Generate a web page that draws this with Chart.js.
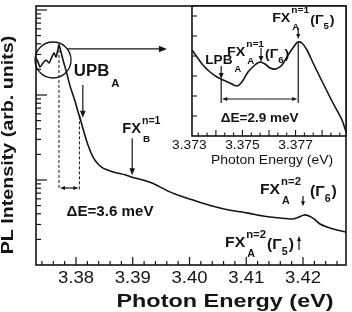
<!DOCTYPE html>
<html>
<head>
<meta charset="utf-8">
<script src="https://cdn.jsdelivr.net/npm/chart.js@4"></script>
<style>
  html, body { margin: 0; padding: 0; background: #fff; }
  #wrap { position: relative; width: 352px; height: 312px; }
  #wrap canvas { position: absolute; left: 0; top: 0; }
</style>
</head>
<body>
<div id="wrap">
  <canvas id="mainChart" width="352" height="312"></canvas>
  <canvas id="insetChart" width="352" height="312"></canvas>
</div>
<script>
// main spectrum: photon energy (eV) and PL intensity (arb. units, log axis)
const mainEnergy = [3.37295, 3.37330, 3.37366, 3.37419, 3.37471, 3.37524, 3.37559, 3.37612, 3.37648, 3.37683,
  3.37700, 3.37736, 3.37771, 3.37806, 3.37841, 3.37894, 3.37982, 3.38035, 3.38070, 3.38123,
  3.38211, 3.38300, 3.38388, 3.38476, 3.38599, 3.38722, 3.38863, 3.38987, 3.39181, 3.39339,
  3.39480, 3.39621, 3.39780, 3.40062, 3.40414, 3.40714, 3.41013, 3.41295, 3.41595, 3.41824,
  3.41930, 3.42018, 3.42106, 3.42194, 3.42300, 3.42423, 3.42599, 3.42758];
const mainIntensity = [272, 245, 214, 238, 258, 238, 265, 312, 280, 348,
  388, 321, 258, 214, 177, 128, 85, 63, 54, 40,
  25.8, 18.6, 15.4, 13.8, 12.8, 12.1, 11.5, 10.8, 10.0, 9.2,
  8.3, 7.4, 6.7, 5.8, 4.9, 4.4, 4.1, 3.77, 3.57, 3.48,
  3.67, 3.88, 3.77, 3.48, 3.04, 2.80, 2.58, 2.44];

// inset: close-up of the polariton / exciton region
const insetEnergy = [3.37310, 3.37329, 3.37351, 3.37378, 3.37404, 3.37427, 3.37453, 3.37479, 3.37498, 3.37521,
  3.37547, 3.37566, 3.37585, 3.37604, 3.37626, 3.37649, 3.37672, 3.37698, 3.37709, 3.37724,
  3.37743, 3.37766, 3.37803, 3.37841, 3.37875, 3.37890];
const insetIntensity = [86, 79, 71, 64, 59, 56, 53, 50, 54, 64,
  71, 74, 72, 68, 67, 71, 81, 91, 94, 93,
  86, 73, 53, 33, 16, 4];

const mainTickLabels = ['3.38', '3.39', '3.40', '3.41', '3.42'];
const insetTickLabels = ['3.373', '3.375', '3.377'];

const FONT = '"Liberation Sans", Arial, Helvetica, sans-serif';
const INK = '#141414';
const SX = 1.05;

function put(ctx, str, x, y, size, bold, align, sx) {
  ctx.save();
  ctx.translate(x, y);
  ctx.scale(sx || 1, 1);
  ctx.font = (bold ? 'bold ' : '') + size + 'px ' + FONT;
  ctx.textAlign = align || 'center';
  ctx.textBaseline = 'middle';
  ctx.fillText(str, 0, 0);
  const w = ctx.measureText(str).width * (sx || 1);
  ctx.restore();
  return w;
}

function seg(ctx, x1, y1, x2, y2) {
  ctx.beginPath();
  ctx.moveTo(x1, y1);
  ctx.lineTo(x2, y2);
  ctx.stroke();
}

function arrow(ctx, x1, y1, x2, y2, head) {
  const a = Math.atan2(y2 - y1, x2 - x1);
  const c = Math.cos(a), s = Math.sin(a);
  seg(ctx, x1, y1, x2 - c * head * 0.7, y2 - s * head * 0.7);
  ctx.beginPath();
  ctx.moveTo(x2, y2);
  ctx.lineTo(x2 - head * c + head * 0.4 * s, y2 - head * s - head * 0.4 * c);
  ctx.lineTo(x2 - head * c - head * 0.4 * s, y2 - head * s + head * 0.4 * c);
  ctx.closePath();
  ctx.fill();
}

// FX^{sup}_{sub}(Γ_gsub) style label, (x, y) = left / middle of the base text
function level(ctx, x, y, o) {
  const s = o.size;
  const bw = put(ctx, o.base, x, y, s, true, 'left', SX);
  const x0 = x + bw + 1;
  const w1 = o.sup ? put(ctx, o.sup, x0, y - 0.55 * s, 0.72 * s, true, 'left', SX) : 0;
  const w2 = o.sub ? put(ctx, o.sub, x0 + 1, y + 0.72 * s, 0.68 * s, true, 'left', SX) + 1 : 0;
  if (o.gsub) {
    let gx = x0 + Math.max(w1, w2) + (o.gap || 1);
    gx += put(ctx, '(Γ', gx, y + 2, s, true, 'left', SX);
    gx += put(ctx, o.gsub, gx, y + 0.6 * s, 0.68 * s, true, 'left', SX);
    put(ctx, ')', gx + 1, y + 2, s, true, 'left', SX);
  }
}

const mainDecor = {
  id: 'mainDecor',
  afterDraw(chart) {
    const { ctx, chartArea: a } = chart;
    const x = chart.scales.x, y = chart.scales.y;
    ctx.save();
    ctx.strokeStyle = INK;
    ctx.fillStyle = INK;

    ctx.lineWidth = 1.6;
    ctx.strokeRect(a.left, a.top, a.right - a.left, a.bottom - a.top);

    // inward ticks
    ctx.lineWidth = 1.2;
    for (let k = Math.ceil(x.min / 0.002); k * 0.002 <= x.max; k++) {
      const px = x.getPixelForValue(k * 0.002);
      seg(ctx, px, a.bottom, px, a.bottom - (k % 5 === 0 ? 8 : 4));
    }
    for (let e = 0; e <= 3; e++) {
      for (let m = 1; m <= 9; m++) {
        const v = m * Math.pow(10, e);
        if (v <= y.min || v > y.max) continue;
        const py = y.getPixelForValue(v);
        seg(ctx, a.left, py, a.left + (m === 1 ? 11 : 5), py);
      }
    }

    mainTickLabels.forEach(t => {
      put(ctx, t, x.getPixelForValue(parseFloat(t)), a.bottom + 13, 17, false, 'center', 1.09);
    });
    put(ctx, 'Photon Energy (eV)', 225, 302, 18, true, 'center', 1.3);
    ctx.save();
    ctx.translate(9, 145);
    ctx.rotate(-Math.PI / 2);
    put(ctx, 'PL Intensity (arb. units)', 0, 0, 16, true, 'center', 1.23);
    ctx.restore();

    // circle around the polariton region and arrow to the inset
    const cx = x.getPixelForValue(3.37595), cy = y.getPixelForValue(258), r = 18;
    ctx.lineWidth = 1.3;
    ctx.beginPath();
    ctx.arc(cx, cy, r, 0, Math.PI * 2);
    ctx.stroke();
    const ay = y.getPixelForValue(348);
    arrow(ctx, cx + Math.sqrt(r * r - (ay - cy) * (ay - cy)), ay, x.getPixelForValue(3.39603), ay, 8);

    // dashed guides and the 3.6 meV splitting
    const xp = x.getPixelForValue(3.3770), xu = x.getPixelForValue(3.3806);
    const yEnd = y.getPixelForValue(7.6), yArr = y.getPixelForValue(8.05);
    ctx.lineWidth = 1;
    ctx.setLineDash([3, 2]);
    seg(ctx, xp, y.getPixelForValue(388), xp, yEnd);
    seg(ctx, xu, y.getPixelForValue(56), xu, yEnd);
    ctx.setLineDash([]);
    ctx.lineWidth = 1.2;
    const mid = (xp + xu) / 2;
    arrow(ctx, mid, yArr, xp + 1, yArr, 5);
    arrow(ctx, mid, yArr, xu - 1, yArr, 5);
    put(ctx, 'ΔE=3.6 meV', x.getPixelForValue(3.38599), y.getPixelForValue(4.2), 14, true, 'center', 1.08);

    // UPB_A
    let ax = x.getPixelForValue(3.3812), at = y.getPixelForValue(131);
    arrow(ctx, ax, at, ax, y.getPixelForValue(54), 7);
    level(ctx, ax - 9, at - 13, { base: 'UPB', sub: 'A', size: 16 });

    // FX_B n=1
    ax = x.getPixelForValue(3.3899); at = y.getPixelForValue(31);
    arrow(ctx, ax, at, ax, y.getPixelForValue(11.4), 7);
    level(ctx, ax - 10, at - 9, { base: 'FX', sup: 'n=1', sub: 'B', size: 14 });

    // FX_A n=2 (Γ6)
    ax = x.getPixelForValue(3.4200); at = y.getPixelForValue(6.5);
    arrow(ctx, ax, at, ax, y.getPixelForValue(4.9), 5);
    level(ctx, ax - 43, at - 6, { base: 'FX', sup: 'n=2', sub: 'A', gsub: '6', size: 15, gap: 9 });

    // FX_A n=2 (Γ5)
    ax = x.getPixelForValue(3.4193); at = y.getPixelForValue(1.5);
    arrow(ctx, ax, at, ax, y.getPixelForValue(2.2), 5);
    level(ctx, ax - 74, at - 7, { base: 'FX', sup: 'n=2', sub: 'A', gsub: '5', size: 15, gap: 1 });

    ctx.restore();
  }
};

const insetDecor = {
  id: 'insetDecor',
  beforeDraw(chart) {
    const { ctx, chartArea: a } = chart;
    ctx.save();
    ctx.fillStyle = '#fff';
    ctx.fillRect(a.left, a.top, a.right - a.left, a.bottom - a.top);
    ctx.restore();
  },
  afterDraw(chart) {
    const { ctx, chartArea: a } = chart;
    const x = chart.scales.x, y = chart.scales.y;
    ctx.save();
    ctx.strokeStyle = INK;
    ctx.fillStyle = INK;

    ctx.lineWidth = 1.6;
    ctx.strokeRect(a.left, a.top, a.right - a.left, a.bottom - a.top);

    ctx.lineWidth = 1.1;
    for (let k = Math.ceil(x.min * 3000); k / 3000 <= x.max; k++) {
      const px = x.getPixelForValue(k / 3000);
      seg(ctx, px, a.bottom, px, a.bottom - (k % 3 === 0 ? 6 : 3.5));
    }
    for (let v = 20; v < y.max; v += 20) {
      const py = y.getPixelForValue(v);
      seg(ctx, a.left, py, a.left + 5, py);
    }

    insetTickLabels.forEach(t => {
      put(ctx, t, x.getPixelForValue(parseFloat(t)), a.bottom + 10, 12, false, 'center', 1.15);
    });
    put(ctx, 'Photon Energy (eV)', 272, 160, 13, false, 'center', 1.07);

    // LPB_A and the 2.9 meV splitting
    const xl = x.getPixelForValue(3.3742), xp = x.getPixelForValue(3.3771);
    const yl = y.getPixelForValue(57), yb = y.getPixelForValue(33), ya = y.getPixelForValue(37);
    ctx.lineWidth = 1.2;
    const lt = y.getPixelForValue(70);
    arrow(ctx, xl, lt, xl, yl, 6);
    seg(ctx, xl, yl, xl, yb);
    seg(ctx, xp, y.getPixelForValue(94), xp, yb);
    const mid = (xl + xp) / 2;
    arrow(ctx, mid, ya, xl + 1, ya, 5);
    arrow(ctx, mid, ya, xp - 1, ya, 5);
    put(ctx, 'ΔE=2.9 meV', mid, y.getPixelForValue(18), 13, true, 'center', 1.04);
    level(ctx, xl - 16, lt - 6, { base: 'LPB', sub: 'A', size: 13 });

    // FX_A n=1 (Γ6)
    let ax = x.getPixelForValue(3.3757), at = y.getPixelForValue(88);
    arrow(ctx, ax, at, ax, y.getPixelForValue(74), 6);
    level(ctx, ax - 34, at + 4, { base: 'FX', sup: 'n=1', sub: 'A', gsub: '6', size: 13.5, gap: 0 });

    // FX_A n=1 (Γ5)
    ax = x.getPixelForValue(3.3771); at = y.getPixelForValue(108);
    arrow(ctx, ax, at, ax, y.getPixelForValue(97), 5);
    level(ctx, ax - 26, at - 10, { base: 'FX', sup: 'n=1', sub: 'A', gsub: '5', size: 13.5, gap: 0 });

    ctx.restore();
  }
};

new Chart(document.getElementById('mainChart'), {
  type: 'line',
  data: {
    datasets: [{
      data: mainEnergy.map((e, i) => ({ x: e, y: mainIntensity[i] })),
      borderColor: INK,
      borderWidth: 1.6,
      pointRadius: 0,
      tension: 0.25
    }]
  },
  options: {
    responsive: false,
    animation: false,
    devicePixelRatio: 1,
    layout: { padding: { left: 36, right: 6, top: 6, bottom: 47 } },
    plugins: { legend: { display: false }, tooltip: { enabled: false } },
    scales: {
      x: { type: 'linear', display: false, min: 3.37295, max: 3.42758 },
      y: { type: 'logarithmic', display: false, min: 1, max: 1114 }
    }
  },
  plugins: [mainDecor]
});

new Chart(document.getElementById('insetChart'), {
  type: 'line',
  data: {
    datasets: [{
      data: insetEnergy.map((e, i) => ({ x: e, y: insetIntensity[i] })),
      borderColor: INK,
      borderWidth: 1.6,
      pointRadius: 0,
      tension: 0.35
    }]
  },
  options: {
    responsive: false,
    animation: false,
    devicePixelRatio: 1,
    events: [],
    layout: { padding: { left: 192, right: 6, top: 6, bottom: 176 } },
    plugins: { legend: { display: false }, tooltip: { enabled: false } },
    scales: {
      x: { type: 'linear', display: false, min: 3.3731, max: 3.3789 },
      y: { type: 'linear', display: false, min: 0, max: 130 }
    }
  },
  plugins: [insetDecor]
});
</script>
</body>
</html>
